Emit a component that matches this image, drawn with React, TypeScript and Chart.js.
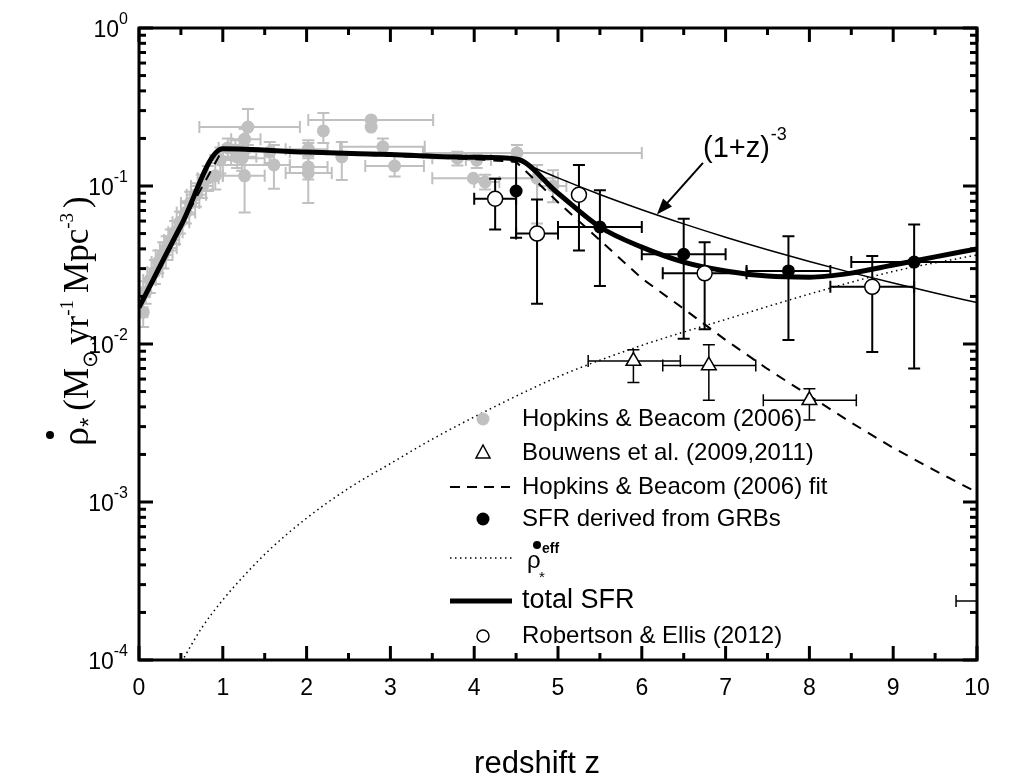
import { useEffect, useRef } from "react";
import { Chart, registerables } from "chart.js";

Chart.register(...registerables);

const SANS = "'Liberation Sans', Arial, sans-serif";
const SERIF = "'Liberation Serif', 'Times New Roman', serif";

// Hopkins & Beacom (2006) compilation (grey)
const hbZ = [0.05, 0.08, 0.13, 0.19, 0.23, 0.29, 0.33, 0.38, 0.43, 0.49, 0.56, 0.61, 0.68, 0.75, 0.82, 0.91, 0.97, 1.06, 1.15, 1.17, 1.23, 1.26, 1.3, 1.26, 1.56, 1.61, 2.02, 2.02, 2.02, 2.2, 2.42, 2.77, 2.77, 2.91, 3.05, 3.8, 4.03, 3.99, 4.13, 4.51, 4.75, 4.94];
const hbRho = [0.0159, 0.0213, 0.0254, 0.0286, 0.033, 0.0366, 0.0405, 0.0455, 0.051, 0.059, 0.068, 0.078, 0.088, 0.1, 0.112, 0.116, 0.146, 0.174, 0.169, 0.153, 0.15, 0.198, 0.236, 0.116, 0.164, 0.136, 0.171, 0.121, 0.132, 0.223, 0.153, 0.262, 0.236, 0.177, 0.134, 0.15, 0.146, 0.112, 0.106, 0.162, 0.112, 0.1];
const hbZLow = [0.0, 0.03, 0.05, 0.1, 0.15, 0.2, 0.25, 0.3, 0.35, 0.4, 0.45, 0.5, 0.57, 0.62, 0.7, 0.8, 0.85, 0.95, 1.0, 1.0, 1.0, 1.1, 0.72, 1.0, 1.3, 1.0, 1.75, 1.75, 1.8, null, null, 2.02, null, 2.4, 2.7, 3.5, 3.9, 3.5, 4.0, 3.39, 4.5, 4.75];
const hbZHigh = [0.1, 0.13, 0.2, 0.28, 0.32, 0.4, 0.45, 0.48, 0.52, 0.6, 0.67, 0.72, 0.8, 0.88, 0.95, 1.0, 1.1, 1.2, 1.3, 1.4, 1.5, 1.45, 1.92, 1.5, 1.8, 1.8, 2.25, 2.3, 2.25, null, null, 3.51, null, 3.41, 3.4, 4.0, 4.2, 4.76, 4.3, 6.0, 5.0, 5.1];
const hbRhoLow = [0.0128, 0.018, 0.021, 0.024, 0.028, 0.03, 0.034, 0.039, 0.043, 0.05, 0.058, 0.066, 0.074, 0.084, 0.093, 0.095, 0.12, 0.15, 0.145, 0.13, 0.125, 0.17, 0.182, 0.068, 0.14, 0.096, 0.15, 0.078, 0.11, 0.187, 0.109, null, null, 0.157, 0.115, 0.135, 0.13, null, 0.095, 0.142, 0.058, 0.079];
const hbRhoHigh = [0.02, 0.025, 0.03, 0.034, 0.039, 0.044, 0.048, 0.053, 0.06, 0.069, 0.08, 0.092, 0.104, 0.118, 0.134, 0.14, 0.175, 0.2, 0.195, 0.18, 0.18, 0.23, 0.307, 0.162, 0.19, 0.182, 0.195, 0.187, 0.155, 0.29, 0.19, null, null, 0.2, 0.158, 0.165, 0.16, null, 0.118, 0.182, 0.136, 0.126];

// Bouwens et al. (2009, 2011)
const bwZ = [5.9, 6.8, 8.0, 10.3];
const bwRho = [0.0078, 0.0073, 0.0044, 0.000236];
const bwZLow = [5.36, 6.25, 7.45, 9.75];
const bwZHigh = [6.46, 7.36, 8.56, 10.7];
const bwRhoLow = [0.0057, 0.0044, 0.0033, null];
const bwRhoHigh = [0.0092, 0.0099, 0.0052, null];

// SFR derived from GRBs
const grbZ = [4.5, 5.5, 6.5, 7.75, 9.25];
const grbRho = [0.093, 0.055, 0.037, 0.029, 0.033];
const grbZLow = [null, 5.0, 6.0, 7.25, 8.5];
const grbZHigh = [null, 6.0, 7.0, 8.25, 10.0];
const grbRhoLow = [0.047, 0.0233, 0.0108, 0.0106, 0.007];
const grbRhoHigh = [0.145, 0.094, 0.062, 0.048, 0.057];

// Robertson & Ellis (2012)
const reZ = [4.25, 4.75, 5.25, 6.75, 8.75];
const reRho = [0.083, 0.05, 0.088, 0.028, 0.023];
const reZLow = [4.0, 4.5, null, 6.25, 8.25];
const reZHigh = [4.5, 5.0, null, 7.25, 9.25];
const reRhoLow = [0.053, 0.018, 0.039, 0.0124, 0.0089];
const reRhoHigh = [0.111, 0.082, 0.136, 0.044, 0.036];

// curves
const fitZ = [0, 0.5, 1.0, 2.0, 3.0, 4.0, 4.5, 5.0, 5.5, 6.0, 6.5, 7.0, 7.5, 8.0, 8.5, 9.0, 9.5, 10.0];
const fitRho = [0.017, 0.056, 0.171, 0.162, 0.155, 0.148, 0.142, 0.079, 0.0454, 0.026, 0.0167, 0.0106, 0.00695, 0.0047, 0.00318, 0.0022, 0.00158, 0.00115];

const powZ = [4.5, 5.0, 5.5, 6.0, 6.5, 7.0, 7.5, 8.0, 8.5, 9.0, 9.5, 10.0];
const powRho = [0.146, 0.1125, 0.0884, 0.0708, 0.0576, 0.0474, 0.0395, 0.0333, 0.0283, 0.0243, 0.021, 0.0183];

const effZ = [0.45, 0.75, 1.0, 1.25, 1.56, 2.0, 2.5, 3.0, 3.5, 4.0, 5.0, 6.0, 7.0, 8.0, 9.0, 10.0];
const effRho = [0.000086, 0.00016, 0.00024, 0.00034, 0.0005, 0.00079, 0.00122, 0.00175, 0.0025, 0.00345, 0.0062, 0.0098, 0.0143, 0.0207, 0.0288, 0.0366];

const totalZ = [0, 0.5, 1.0, 2.0, 3.0, 4.0, 4.5, 5.0, 5.5, 6.0, 6.5, 7.0, 7.5, 8.0, 8.5, 9.0, 9.5, 10.0];
const totalRho = [0.017, 0.056, 0.172, 0.164, 0.158, 0.152, 0.148, 0.09, 0.055, 0.041, 0.033, 0.029, 0.0269, 0.0265, 0.0281, 0.0316, 0.0356, 0.04];

const xTicks = [0, 1, 2, 3, 4, 5, 6, 7, 8, 9, 10];
const yDecades = [-4, -3, -2, -1, 0];

type Pt = { x: number; y: number };
const pts = (xs: number[], ys: number[]): Pt[] => xs.map((x, i) => ({ x, y: ys[i] }));

const errorBarPlugin = {
  id: "errorBars",
  beforeDatasetDraw(chart: any, args: any) {
    const ds = chart.data.datasets[args.index];
    const eb = ds.errorBars;
    if (!eb) return;
    const { ctx, chartArea: a } = chart;
    const xs = chart.scales.x;
    const ys = chart.scales.y;
    ctx.save();
    ctx.beginPath();
    ctx.rect(a.left, a.top, a.right - a.left, a.bottom - a.top);
    ctx.clip();
    ctx.strokeStyle = eb.color;
    ctx.lineWidth = eb.width;
    const cap = eb.cap;
    ds.data.forEach((p: Pt, i: number) => {
      const px = xs.getPixelForValue(p.x);
      const py = ys.getPixelForValue(p.y);
      const yl = eb.yLow[i];
      const yh = eb.yHigh[i];
      if (yl != null || yh != null) {
        const p1 = ys.getPixelForValue(yl ?? p.y);
        const p2 = ys.getPixelForValue(yh ?? p.y);
        ctx.beginPath();
        ctx.moveTo(px, p1);
        ctx.lineTo(px, p2);
        if (yl != null) { ctx.moveTo(px - cap, p1); ctx.lineTo(px + cap, p1); }
        if (yh != null) { ctx.moveTo(px - cap, p2); ctx.lineTo(px + cap, p2); }
        ctx.stroke();
      }
      const xl = eb.xLow[i];
      const xh = eb.xHigh[i];
      if (xl != null || xh != null) {
        const q1 = xs.getPixelForValue(xl ?? p.x);
        const q2 = xs.getPixelForValue(xh ?? p.x);
        ctx.beginPath();
        ctx.moveTo(q1, py);
        ctx.lineTo(q2, py);
        if (xl != null) { ctx.moveTo(q1, py - cap); ctx.lineTo(q1, py + cap); }
        if (xh != null) { ctx.moveTo(q2, py - cap); ctx.lineTo(q2, py + cap); }
        ctx.stroke();
      }
    });
    ctx.restore();
  },
};

function seg(ctx: CanvasRenderingContext2D, x1: number, y1: number, x2: number, y2: number) {
  ctx.beginPath();
  ctx.moveTo(x1, y1);
  ctx.lineTo(x2, y2);
  ctx.stroke();
}

const framePlugin = {
  id: "frame",
  afterDraw(chart: any) {
    const { ctx, chartArea: a } = chart;
    const xs = chart.scales.x;
    const ys = chart.scales.y;
    ctx.save();
    ctx.strokeStyle = "#000";
    ctx.fillStyle = "#000";
    ctx.lineWidth = 3;
    ctx.strokeRect(a.left, a.top, a.right - a.left, a.bottom - a.top);

    // inward ticks, all four sides
    for (let i = 0; i <= 20; i++) {
      const px = xs.getPixelForValue(i / 2);
      const len = i % 2 === 0 ? 14 : 7;
      seg(ctx, px, a.bottom, px, a.bottom - len);
      seg(ctx, px, a.top, px, a.top + len);
    }
    yDecades.forEach((k) => {
      const py = ys.getPixelForValue(Math.pow(10, k));
      seg(ctx, a.left, py, a.left + 14, py);
      seg(ctx, a.right, py, a.right - 14, py);
      if (k < 0) {
        for (let m = 2; m <= 9; m++) {
          const pm = ys.getPixelForValue(m * Math.pow(10, k));
          seg(ctx, a.left, pm, a.left + 7, pm);
          seg(ctx, a.right, pm, a.right - 7, pm);
        }
      }
      // tick label 10^k
      const sup = String(k);
      ctx.textBaseline = "middle";
      ctx.textAlign = "left";
      ctx.font = `16px ${SANS}`;
      const ws = ctx.measureText(sup).width;
      ctx.font = `23px ${SANS}`;
      const wb = ctx.measureText("10").width;
      const right = a.left - 11;
      ctx.fillText("10", right - ws - wb, py + 3);
      ctx.font = `16px ${SANS}`;
      ctx.fillText(sup, right - ws, py - 8);
    });

    // x title
    ctx.textAlign = "center";
    ctx.textBaseline = "middle";
    ctx.font = `31px ${SANS}`;
    ctx.fillText("redshift z", 537, 764);

    // y title (rotated)
    ctx.save();
    ctx.translate(88, 446);
    ctx.rotate(-Math.PI / 2);
    ctx.textAlign = "left";
    ctx.textBaseline = "alphabetic";
    let u = 0;
    const put = (t: string, font: string, dv: number) => {
      ctx.font = font;
      ctx.fillText(t, u, dv);
      u += ctx.measureText(t).width;
    };
    put("ρ", `38px ${SERIF}`, 0);
    ctx.beginPath();
    ctx.arc(11, -38, 4, 0, Math.PI * 2);
    ctx.fill();
    put("*", `24px ${SANS}`, 9);
    u += 7;
    put("(M", `35px ${SERIF}`, 0);
    put("⊙", `21px ${SANS}`, 9);
    u += 5;
    put("yr", `35px ${SERIF}`, 0);
    put("-1", `19px ${SERIF}`, -15);
    u += 7;
    put("Mpc", `35px ${SERIF}`, 0);
    put("-3", `19px ${SERIF}`, -15);
    u += 5;
    put(")", `35px ${SERIF}`, 0);
    ctx.restore();

    // annotation (1+z)^-3 with arrow
    const tx = xs.getPixelForValue(6.73);
    const ty = ys.getPixelForValue(0.153);
    ctx.textAlign = "left";
    ctx.textBaseline = "alphabetic";
    ctx.font = `29px ${SANS}`;
    ctx.fillText("(1+z)", tx, ty);
    const tw = ctx.measureText("(1+z)").width;
    ctx.font = `18px ${SANS}`;
    ctx.fillText("-3", tx + tw + 1, ty - 17);
    const ax1 = xs.getPixelForValue(6.73);
    const ay1 = ys.getPixelForValue(0.14);
    const ax2 = xs.getPixelForValue(6.18);
    const ay2 = ys.getPixelForValue(0.066);
    ctx.lineWidth = 2;
    const ang = Math.atan2(ay2 - ay1, ax2 - ax1);
    seg(ctx, ax1, ay1, ax2 - 10 * Math.cos(ang), ay2 - 10 * Math.sin(ang));
    ctx.beginPath();
    ctx.moveTo(ax2, ay2);
    ctx.lineTo(ax2 - 16 * Math.cos(ang) + 6 * Math.sin(ang), ay2 - 16 * Math.sin(ang) - 6 * Math.cos(ang));
    ctx.lineTo(ax2 - 16 * Math.cos(ang) - 6 * Math.sin(ang), ay2 - 16 * Math.sin(ang) + 6 * Math.cos(ang));
    ctx.closePath();
    ctx.fill();

    // legend
    const mx = 483;
    const lx = 522;
    ctx.textAlign = "left";
    ctx.textBaseline = "middle";
    ctx.font = `24px ${SANS}`;
    ctx.fillStyle = "#c0c0c0";
    ctx.beginPath();
    ctx.arc(mx, 419, 6.5, 0, Math.PI * 2);
    ctx.fill();
    ctx.fillStyle = "#000";
    ctx.fillText("Hopkins & Beacom (2006)", lx, 419);
    ctx.lineWidth = 1.5;
    ctx.beginPath();
    ctx.moveTo(mx, 445);
    ctx.lineTo(mx - 7, 458);
    ctx.lineTo(mx + 7, 458);
    ctx.closePath();
    ctx.stroke();
    ctx.fillText("Bouwens et al. (2009,2011)", lx, 453);
    ctx.lineWidth = 2;
    ctx.setLineDash([10, 7]);
    seg(ctx, 450, 487, 510, 487);
    ctx.setLineDash([]);
    ctx.fillText("Hopkins & Beacom (2006) fit", lx, 487);
    ctx.beginPath();
    ctx.arc(mx, 519, 6.5, 0, Math.PI * 2);
    ctx.fill();
    ctx.fillText("SFR derived from GRBs", lx, 519);
    ctx.lineWidth = 1.5;
    ctx.setLineDash([1.5, 3.5]);
    seg(ctx, 450, 558, 512, 558);
    ctx.setLineDash([]);
    ctx.textBaseline = "alphabetic";
    ctx.font = `24px ${SANS}`;
    ctx.fillText("ρ", 527, 568);
    ctx.font = `15px ${SANS}`;
    ctx.fillText("*", 539, 582);
    ctx.font = `bold 14px ${SANS}`;
    ctx.fillText("eff", 542, 553);
    ctx.beginPath();
    ctx.arc(537, 545, 4, 0, Math.PI * 2);
    ctx.fill();
    ctx.lineWidth = 5;
    seg(ctx, 450, 601, 512, 601);
    ctx.textBaseline = "middle";
    ctx.font = `27px ${SANS}`;
    ctx.fillText("total SFR", lx, 601);
    ctx.lineWidth = 1.5;
    ctx.beginPath();
    ctx.arc(mx, 636, 6, 0, Math.PI * 2);
    ctx.stroke();
    ctx.font = `24px ${SANS}`;
    ctx.fillText("Robertson & Ellis (2012)", lx, 636);

    ctx.restore();
  },
};

export default function App() {
  const canvasRef = useRef<HTMLCanvasElement | null>(null);

  useEffect(() => {
    document.body.style.margin = "0";
    if (!canvasRef.current) return;

    const grey = "#c0c0c0";
    const chart = new Chart(canvasRef.current, {
      type: "scatter",
      data: {
        datasets: [
          {
            label: "Hopkins & Beacom (2006)",
            data: pts(hbZ, hbRho),
            pointRadius: 6.5,
            pointBackgroundColor: grey,
            pointBorderWidth: 0,
            order: 9,
            clip: 0,
            errorBars: { xLow: hbZLow, xHigh: hbZHigh, yLow: hbRhoLow, yHigh: hbRhoHigh, color: grey, width: 2, cap: 6 },
          } as any,
          {
            label: "(1+z)^-3",
            data: pts(powZ, powRho),
            showLine: true,
            pointRadius: 0,
            borderColor: "#000",
            borderWidth: 1.5,
            cubicInterpolationMode: "monotone",
            order: 8,
            clip: 0,
          },
          {
            label: "rho_eff",
            data: pts(effZ, effRho),
            showLine: true,
            pointRadius: 0,
            borderColor: "#000",
            borderWidth: 1.5,
            borderDash: [1.5, 3.5],
            cubicInterpolationMode: "monotone",
            order: 7,
            clip: 0,
          },
          {
            label: "Hopkins & Beacom (2006) fit",
            data: pts(fitZ, fitRho),
            showLine: true,
            pointRadius: 0,
            borderColor: "#000",
            borderWidth: 2,
            borderDash: [10, 8],
            order: 6,
            clip: 0,
          },
          {
            label: "total SFR",
            data: pts(totalZ, totalRho),
            showLine: true,
            pointRadius: 0,
            borderColor: "#000",
            borderWidth: 5,
            cubicInterpolationMode: "monotone",
            order: 5,
            clip: 0,
          },
          {
            label: "Bouwens et al. (2009,2011)",
            data: pts(bwZ, bwRho),
            pointStyle: "triangle",
            pointRadius: 8.5,
            pointBackgroundColor: "#fff",
            pointBorderColor: "#000",
            pointBorderWidth: 1.5,
            order: 3,
            clip: 0,
            errorBars: { xLow: bwZLow, xHigh: bwZHigh, yLow: bwRhoLow, yHigh: bwRhoHigh, color: "#000", width: 1.5, cap: 6 },
          } as any,
          {
            label: "SFR derived from GRBs",
            data: pts(grbZ, grbRho),
            pointRadius: 6.5,
            pointBackgroundColor: "#000",
            pointBorderWidth: 0,
            order: 2,
            clip: 0,
            errorBars: { xLow: grbZLow, xHigh: grbZHigh, yLow: grbRhoLow, yHigh: grbRhoHigh, color: "#000", width: 2, cap: 6 },
          } as any,
          {
            label: "Robertson & Ellis (2012)",
            data: pts(reZ, reRho),
            pointRadius: 7.5,
            pointBackgroundColor: "#fff",
            pointBorderColor: "#000",
            pointBorderWidth: 1.5,
            order: 1,
            clip: 0,
            errorBars: { xLow: reZLow, xHigh: reZHigh, yLow: reRhoLow, yHigh: reRhoHigh, color: "#000", width: 2, cap: 6 },
          } as any,
        ],
      },
      options: {
        animation: false,
        responsive: false,
        devicePixelRatio: 1,
        layout: { padding: { top: 28, right: 44, left: 0, bottom: 0 } },
        plugins: {
          legend: { display: false },
          tooltip: { enabled: false },
        },
        scales: {
          x: {
            type: "linear",
            min: 0,
            max: 10,
            afterBuildTicks: (s: any) => {
              s.ticks = xTicks.map((v) => ({ value: v }));
            },
            afterFit: (s: any) => {
              s.height = 121;
            },
            ticks: {
              color: "#000",
              font: { family: SANS, size: 23 },
              padding: 15,
              maxRotation: 0,
            },
            grid: { display: false, drawTicks: false },
            border: { display: false },
          },
          y: {
            type: "logarithmic",
            min: 1e-4,
            max: 1,
            afterFit: (s: any) => {
              s.width = 139;
            },
            ticks: { display: false },
            grid: { display: false, drawTicks: false },
            border: { display: false },
          },
        },
      },
      plugins: [errorBarPlugin, framePlugin],
    });

    return () => {
      chart.destroy();
    };
  }, []);

  return (
    <div style={{ width: 1021, height: 781, background: "#fff" }}>
      <canvas ref={canvasRef} width={1021} height={781} />
    </div>
  );
}
